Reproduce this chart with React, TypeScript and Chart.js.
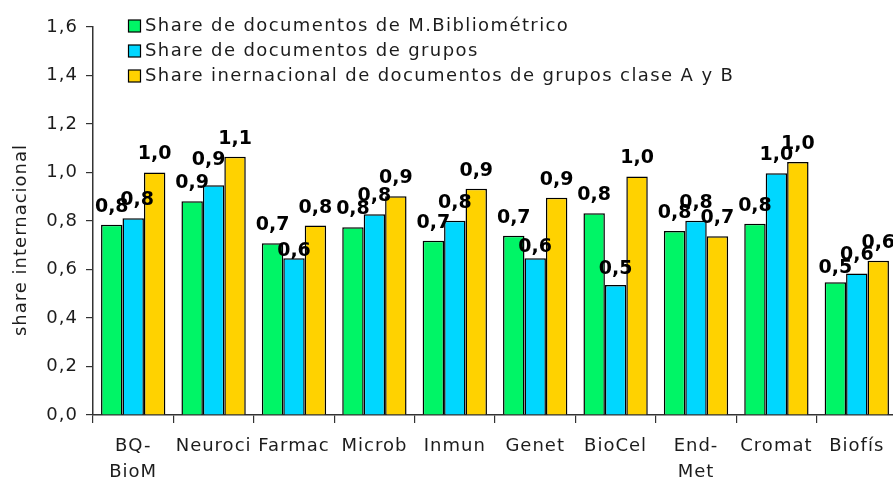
import React, { useEffect, useRef } from 'react';
import { Chart, registerables } from 'chart.js';

Chart.register(...registerables);

const categories: (string | string[])[] = [
  ['BQ-', 'BioM'], 'Neuroci', 'Farmac', 'Microb', 'Inmun', 'Genet', 'BioCel', ['End-', 'Met'], 'Cromat', 'Biofís',
];
const seriesNames = [
  'Share de documentos de M.Bibliométrico',
  'Share de documentos de grupos',
  'Share inernacional de documentos de grupos clase A y B',
];
const shareMB = [0.785, 0.881, 0.708, 0.774, 0.719, 0.739, 0.832, 0.759, 0.789, 0.547];
const shareGrupos = [0.811, 0.947, 0.646, 0.828, 0.801, 0.646, 0.536, 0.801, 0.997, 0.584];
const shareAB = [1.0, 1.065, 0.781, 0.902, 0.933, 0.896, 0.984, 0.737, 1.043, 0.636];
const yTickValues = [0, 0.2, 0.4, 0.6, 0.8, 1.0, 1.2, 1.4, 1.6];
const yTitle = 'share internacional';

const COLORS = ['#00F566', '#00D7FF', '#FFD200'];
const FONT = '"DejaVu Sans", Verdana, sans-serif';
const TEXT = '#1c1c1c';

const fmt = (v: number) => v.toFixed(1).replace('.', ',');

// label nudges (dx, dy) in px, keyed by dataset-index
const nudges: Record<string, [number, number]> = {
  '1-0': [4, 0],
  '1-1': [-5, -7],
  '1-2': [0, 11],
  '1-5': [0, 7],
  '1-6': [0, 2],
  '0-9': [0, 4],
};

const spacingPlugin = {
  id: 'spacing',
  beforeLayout(chart: any) {
    chart.ctx.letterSpacing = '1px';
  },
  beforeDraw(chart: any) {
    chart.ctx.letterSpacing = '1px';
  },
};

const extrasPlugin = {
  id: 'extras',
  afterDraw(chart: any) {
    const ctx = chart.ctx as CanvasRenderingContext2D;
    // data labels
    ctx.save();
    (ctx as any).letterSpacing = '0px';
    ctx.font = `bold 19px ${FONT}`;
    ctx.fillStyle = '#000';
    ctx.textAlign = 'center';
    ctx.textBaseline = 'middle';
    chart.data.datasets.forEach((ds: any, d: number) => {
      const meta = chart.getDatasetMeta(d);
      meta.data.forEach((bar: any, i: number) => {
        const n = nudges[`${d}-${i}`] || [0, 0];
        ctx.fillText(fmt(ds.data[i]), bar.x + n[0], bar.y - 18 + n[1]);
      });
    });
    ctx.restore();

    // legend
    ctx.save();
    (ctx as any).letterSpacing = '1.4px';
    ctx.font = `18px ${FONT}`;
    ctx.textAlign = 'left';
    ctx.textBaseline = 'middle';
    chart.data.datasets.forEach((ds: any, d: number) => {
      const y = 26 + d * 25;
      ctx.fillStyle = ds.backgroundColor;
      ctx.fillRect(128.5, y - 6, 12, 12);
      ctx.strokeStyle = '#000';
      ctx.lineWidth = 1.2;
      ctx.strokeRect(128.5, y - 6, 12, 12);
      ctx.fillStyle = TEXT;
      ctx.fillText(ds.label, 145, y);
    });
    ctx.restore();

    // y title
    ctx.save();
    (ctx as any).letterSpacing = '1px';
    ctx.font = `18px ${FONT}`;
    ctx.fillStyle = TEXT;
    ctx.translate(21, 240);
    ctx.rotate(-Math.PI / 2);
    ctx.textAlign = 'center';
    ctx.textBaseline = 'middle';
    ctx.fillText(yTitle, 0, 0);
    ctx.restore();
  },
};

export default function App() {
  const ref = useRef<HTMLCanvasElement | null>(null);
  useEffect(() => {
    if (!ref.current) return;
    const datasets = [shareMB, shareGrupos, shareAB].map((data, i) => ({
      label: seriesNames[i],
      data,
      backgroundColor: COLORS[i],
      borderColor: '#000',
      borderWidth: 1.5,
      borderSkipped: 'bottom' as const,
      categoryPercentage: 0.8,
      barPercentage: 1.0,
    }));
    const chart = new Chart(ref.current, {
      type: 'bar',
      data: { labels: categories as any, datasets },
      options: {
        animation: false,
        responsive: false,
        maintainAspectRatio: false,
        layout: { padding: { top: 27, right: 0, left: 0, bottom: 0 } },
        plugins: {
          legend: { display: false },
          tooltip: { enabled: false },
        },
        scales: {
          x: {
            afterFit: (s: any) => { s.height = 62; },
            grid: {
              offset: true,
              drawOnChartArea: false,
              drawTicks: true,
              tickLength: 8,
              color: '#333',
              lineWidth: 1.2,
            },
            border: { display: true, color: '#333', width: 1.5 },
            ticks: {
              color: TEXT,
              font: { family: FONT, size: 18, lineHeight: 1.44 },
              padding: 10,
              maxRotation: 0,
              autoSkip: false,
            },
          },
          y: {
            min: 0,
            max: 1.6,
            afterFit: (s: any) => { s.width = 93; },
            afterBuildTicks: (s: any) => { s.ticks = yTickValues.map((v) => ({ value: v })); },
            grid: {
              drawOnChartArea: false,
              drawTicks: true,
              tickLength: 7,
              color: '#333',
              lineWidth: 1.2,
            },
            border: { display: true, color: '#333', width: 1.5 },
            ticks: {
              color: TEXT,
              font: { family: FONT, size: 18 },
              padding: 8,
              callback: (v: any) => fmt(Number(v)),
            },
          },
        },
      },
      plugins: [spacingPlugin, extrasPlugin],
    });
    return () => chart.destroy();
  }, []);
  return (
    <div style={{ position: 'fixed', left: 0, top: 0, width: 893, height: 477, overflow: 'hidden', background: '#fff' }}>
      <canvas ref={ref} width={897} height={477} style={{ display: 'block', width: 897, height: 477 }} />
    </div>
  );
}
